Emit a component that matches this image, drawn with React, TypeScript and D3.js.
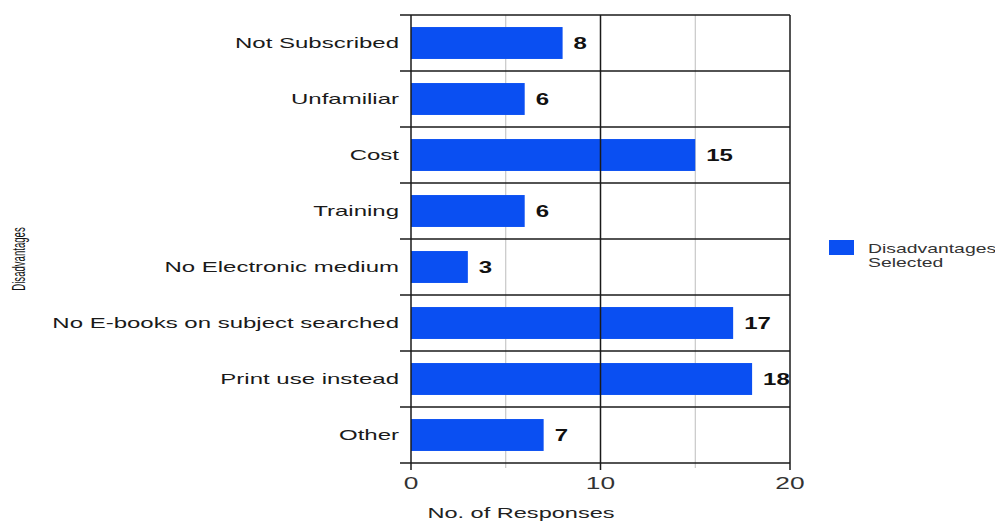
import React from "react";
import * as d3 from "d3";

const categories = [
  "Not Subscribed",
  "Unfamiliar",
  "Cost",
  "Training",
  "No Electronic medium",
  "No E-books on subject searched",
  "Print use instead",
  "Other",
];
const values = [8, 6, 15, 6, 3, 17, 18, 7];
const majorTicks = [0, 10, 20];
const minorTicks = [5, 15];
const seriesName = ["Disadvantages", "Selected"];
const xTitle = "No. of Responses";
const yTitle = "Disadvantages";

const W = 995;
const H = 522;
const BAR = "#0a4ff2";
const FONT = "'Liberation Sans', Arial, sans-serif";

export default function App() {
  const x = d3.scaleLinear().domain([0, 20]).range([411, 790]);
  const y = d3
    .scaleBand<string>()
    .domain(categories)
    .range([15, 463])
    .paddingInner(0.43)
    .paddingOuter(0.215);
  const step = y.step();
  const top = 15;
  const bottom = 463;
  const boundaries = d3.range(categories.length + 1).map((i) => top + i * step);

  return (
    <svg
      width={W}
      height={H}
      style={{ position: "absolute", left: 0, top: 0, background: "#fff" }}
      fontFamily={FONT}
    >
      {/* minor gridlines */}
      {minorTicks.map((t) => (
        <line
          key={"mi" + t}
          x1={x(t)}
          x2={x(t)}
          y1={top}
          y2={bottom + 5}
          stroke="#bdbdbd"
          strokeWidth={1}
        />
      ))}
      {/* bars */}
      {categories.map((c, i) => (
        <rect
          key={c}
          x={x(0)}
          y={y(c)}
          width={x(values[i]) - x(0)}
          height={y.bandwidth()}
          fill={BAR}
        />
      ))}
      {/* horizontal band lines */}
      {boundaries.map((b, i) => (
        <line
          key={"h" + i}
          x1={400}
          x2={x(20)}
          y1={b}
          y2={b}
          stroke="#1a1a1a"
          strokeWidth={1.5}
        />
      ))}
      {/* major gridlines */}
      {majorTicks.map((t) => (
        <line
          key={"ma" + t}
          x1={x(t)}
          x2={x(t)}
          y1={top}
          y2={bottom + 7}
          stroke="#1a1a1a"
          strokeWidth={1.5}
        />
      ))}
      {/* tick labels */}
      {majorTicks.map((t) => (
        <text
          key={"tl" + t}
          transform={`translate(${x(t)},489) scale(1.55,1)`}
          textAnchor="middle"
          fontSize={17}
          fill="#333"
        >
          {t}
        </text>
      ))}
      {/* category labels */}
      {categories.map((c) => (
        <text
          key={"cl" + c}
          transform={`translate(${399},${(y(c) as number) + y.bandwidth() / 2 + 5}) scale(1.6,1)`}
          textAnchor="end"
          fontSize={15}
          fill="#1a1a1a"
        >
          {c}
        </text>
      ))}
      {/* value labels */}
      {categories.map((c, i) => (
        <text
          key={"vl" + c}
          transform={`translate(${x(values[i]) + 11},${(y(c) as number) + y.bandwidth() / 2 + 6}) scale(1.5,1)`}
          textAnchor="start"
          fontSize={16}
          fontWeight="bold"
          fill="#111"
        >
          {values[i]}
        </text>
      ))}
      {/* x title */}
      <text
        transform={`translate(521,518) scale(1.57,1)`}
        textAnchor="middle"
        fontSize={15}
        fill="#222"
      >
        {xTitle}
      </text>
      {/* y title */}
      <text
        transform={`translate(25,259) rotate(-90) scale(0.8,1.6)`}
        textAnchor="middle"
        fontSize={12}
        fill="#111"
      >
        {yTitle}
      </text>
      {/* legend */}
      <rect x={829} y={240} width={25} height={15} fill={BAR} />
      {seriesName.map((s, i) => (
        <text
          key={"lg" + i}
          transform={`translate(868,${253 + i * 14}) scale(1.55,1)`}
          fontSize={12.5}
          fill="#333"
        >
          {s}
        </text>
      ))}
    </svg>
  );
}
